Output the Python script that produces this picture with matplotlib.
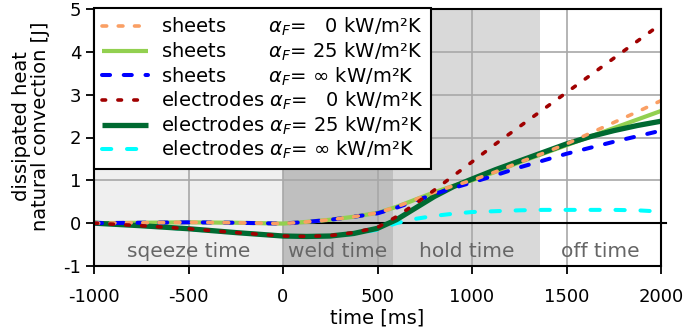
import matplotlib
matplotlib.use("Agg")
import matplotlib.pyplot as plt
from matplotlib.lines import Line2D

plt.rcParams['font.family'] = ['DejaVu Sans']
plt.rcParams['axes.unicode_minus'] = False
plt.rcParams['mathtext.fontset'] = 'dejavusans'

# ---- data ----
time_ms = [-1000, -750, -500, -250, 0, 125, 250, 375, 500, 600, 700, 800, 900,
           1000, 1125, 1250, 1375, 1500, 1625, 1750, 1875, 2000]
sheets_0 = [0, 0.01, 0.02, 0.01, -0.01, 0.03, 0.08, 0.15, 0.24, 0.38, 0.55, 0.72, 0.87,
            1.0, 1.2, 1.42, 1.63, 1.85, 2.1, 2.35, 2.6, 2.86]
sheets_25 = [0, 0.01, 0.02, 0.01, -0.01, 0.03, 0.08, 0.15, 0.24, 0.38, 0.55, 0.72, 0.87,
             1.0, 1.2, 1.42, 1.62, 1.82, 2.02, 2.22, 2.42, 2.62]
sheets_inf = [0, 0.01, 0.02, 0.01, -0.01, 0.03, 0.08, 0.15, 0.23, 0.36, 0.52, 0.68, 0.82,
              0.95, 1.12, 1.3, 1.46, 1.62, 1.76, 1.9, 2.03, 2.16]
electrodes_0 = [0, -0.06, -0.13, -0.22, -0.3, -0.31, -0.29, -0.22, -0.1, 0.15, 0.45, 0.77, 1.1,
                1.43, 1.85, 2.25, 2.65, 3.05, 3.45, 3.85, 4.25, 4.65]
electrodes_25 = [0, -0.06, -0.13, -0.22, -0.3, -0.31, -0.3, -0.24, -0.12, 0.08, 0.35, 0.62, 0.85,
                 1.03, 1.25, 1.45, 1.65, 1.85, 2.02, 2.16, 2.28, 2.38]
electrodes_inf = [0, -0.06, -0.14, -0.22, -0.3, -0.31, -0.3, -0.25, -0.15, 0.0, 0.1, 0.17, 0.22,
                  0.26, 0.28, 0.3, 0.31, 0.31, 0.31, 0.31, 0.3, 0.27]

phase_names = ["sqeeze time", "weld time", "hold time", "off time"]
phase_bounds = [-1000, 0, 580, 1360, 2000]
phase_colors = ["#efefef", "#bfbfbf", "#d9d9d9", "#ffffff"]

x_ticks = [-1000, -500, 0, 500, 1000, 1500, 2000]
y_ticks = [-1, 0, 1, 2, 3, 4, 5]

labels = [
    r"sheets       $\alpha_F$=   0 kW/m²K",
    r"sheets       $\alpha_F$= 25 kW/m²K",
    r"sheets       $\alpha_F$= ∞ kW/m²K",
    r"electrodes $\alpha_F$=   0 kW/m²K",
    r"electrodes $\alpha_F$= 25 kW/m²K",
    r"electrodes $\alpha_F$= ∞ kW/m²K",
]

fig = plt.figure(figsize=(6.85, 3.29), dpi=100)
ax = fig.add_axes([94/685, 1-266/329, 567/685, 257/329])

# phase shading
for i, name in enumerate(phase_names):
    a, b = phase_bounds[i], phase_bounds[i+1]
    ax.axvspan(a, b, color=phase_colors[i], zorder=0, lw=0)
    ax.text((a + b) / 2, -0.67, name, ha='center', va='center', fontsize=14.5,
            color='#666666', zorder=1)

ax.set_axisbelow(True)
ax.grid(True, color='#a8a8a8', lw=1.2)
ax.plot([0, 1.008], [0, 0], transform=ax.get_yaxis_transform(), color='black',
        lw=1.5, zorder=2, clip_on=False)

series = [
    (sheets_0, '#fa9f64', 2.6, (1.3, 3.2), 3.4),
    (sheets_25, '#92d050', 3.0, None, 3.1),
    (sheets_inf, '#0000ff', 2.9, (2.0, 3.4), 3.3),
    (electrodes_0, '#a00000', 2.6, (1.0, 3.4), 3.5),
    (electrodes_25, '#006a31', 3.8, None, 3.2),
    (electrodes_inf, '#00ffff', 2.9, (2.3, 3.9), 3.0),
]
handles = []
for (vals, col, lw, dash, z), lab in zip(series, labels):
    ln, = ax.plot(time_ms, vals, color=col, lw=lw, zorder=z,
                  solid_capstyle='butt', dash_capstyle='round')
    if dash is not None:
        ln.set_dashes(dash)
    h = Line2D([], [], color=col, lw=lw, dash_capstyle='round', solid_capstyle='butt')
    if dash is not None:
        h.set_dashes(dash)
    handles.append(h)

leg = ax.legend(handles, labels, loc='upper left', bbox_to_anchor=(0, 1.003),
                borderaxespad=0, fontsize=14, handlelength=2.4, handletextpad=0.65,
                labelspacing=0.12, fancybox=False, framealpha=1, edgecolor='black')
leg.get_frame().set_linewidth(1.5)
leg.set_zorder(10)

ax.set_xlim(-1000, 2000)
ax.set_ylim(-1, 5)
ax.set_xticks(x_ticks)
ax.set_yticks(y_ticks)
ax.tick_params(direction='out', length=6, width=1.3, labelsize=13, color='black', pad=3)
ax.tick_params(axis='x', pad=10)
for s in ax.spines.values():
    s.set_linewidth(1.5)
    s.set_color('black')
    s.set_zorder(5)

ax.set_xlabel("time [ms]", fontsize=14, labelpad=2)
fig.text(31/685, 1-126/329, "dissipated heat\nnatural convection [J]", rotation=90,
         ha='center', va='center', fontsize=14, multialignment='center',
         linespacing=1.0)

fig.savefig("out.png", dpi=100)
